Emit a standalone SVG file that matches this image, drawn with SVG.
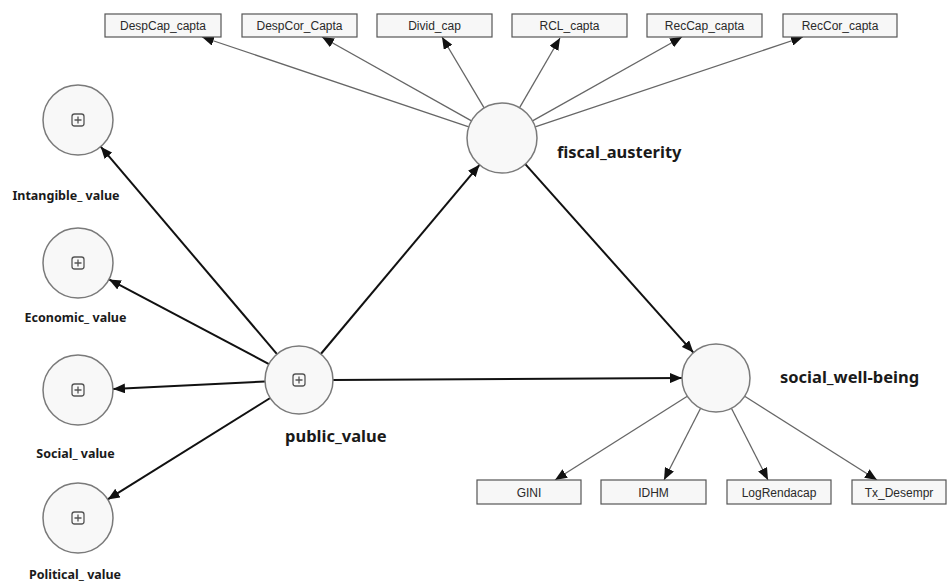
<svg xmlns="http://www.w3.org/2000/svg" width="948" height="583" viewBox="0 0 948 583">
<style>
.bg{fill:#ffffff}
.lv{fill:#f8f8f8;stroke:#7a7a7a;stroke-width:1.5}
.box{fill:#f7f7f7;stroke:#555;stroke-width:1.2}
.bt{font-family:"Liberation Sans",Arial,sans-serif;font-size:12px;fill:#2a2a2a;text-anchor:middle}
.lbl{font-family:"Noto Sans","DejaVu Sans",sans-serif;font-weight:bold;font-size:16.5px;fill:#1a1a1a}
.sl{font-family:"Noto Sans","DejaVu Sans",sans-serif;font-weight:bold;font-size:12.5px;fill:#1a1a1a;text-anchor:middle}
.st{stroke:#111;stroke-width:2;fill:none;marker-end:url(#ah)}
.ms{stroke:#666;stroke-width:1.3;fill:none;marker-end:url(#ahm)}
.ic{fill:none;stroke:#555;stroke-width:1.3}
</style>
<defs>
<marker id="ah" viewBox="0 0 12 10" refX="12" refY="5" markerWidth="12" markerHeight="10" markerUnits="userSpaceOnUse" orient="auto">
<path d="M0,0 L12,5 L0,10 Z" fill="#111"/>
</marker>
<marker id="ahm" viewBox="0 0 12 10" refX="12" refY="5" markerWidth="12" markerHeight="10" markerUnits="userSpaceOnUse" orient="auto">
<path d="M0,0 L12,5 L0,10 Z" fill="#111"/>
</marker>
<g id="plus">
<rect x="-6" y="-6" width="12" height="12" rx="2.5" class="ic"/>
<path d="M-3.5,0 H3.5 M0,-3.5 V3.5" class="ic"/>
</g>
</defs>
<rect class="bg" x="0" y="0" width="948" height="583"/>

<g id="connectors">
<line class="st" x1="320.8" y1="354" x2="479.5" y2="164.8"/>
<line class="st" x1="525.3" y1="164.1" x2="693.4" y2="352.6"/>
<line class="st" x1="333" y1="380" x2="682" y2="378"/>
<line class="st" x1="277" y1="354.1" x2="100.7" y2="146.7"/>
<line class="st" x1="269" y1="364.1" x2="109" y2="279.4"/>
<line class="st" x1="265" y1="381.5" x2="113" y2="389"/>
<line class="st" x1="270.2" y1="398" x2="107.7" y2="499.4"/>
<line class="ms" x1="468.8" y1="126.8" x2="202" y2="37"/>
<line class="ms" x1="471.5" y1="120.9" x2="322" y2="37"/>
<line class="ms" x1="484.1" y1="107.9" x2="442" y2="37"/>
<line class="ms" x1="519.6" y1="107.7" x2="560" y2="38"/>
<line class="ms" x1="532.5" y1="120.9" x2="682" y2="37"/>
<line class="ms" x1="535.2" y1="126.9" x2="803" y2="37"/>
<line class="ms" x1="687.3" y1="396.2" x2="555" y2="480"/>
<line class="ms" x1="700.6" y1="408.3" x2="664" y2="480"/>
<line class="ms" x1="731.4" y1="408.3" x2="768" y2="480"/>
<line class="ms" x1="744.7" y1="396.2" x2="877" y2="480"/>
</g>

<g id="DespCap_capta"><rect class="box" x="105" y="14" width="116" height="23"/><text class="bt" x="163" y="30">DespCap_capta</text></g>
<g id="DespCor_Capta"><rect class="box" x="242" y="14" width="115" height="23"/><text class="bt" x="299.5" y="30">DespCor_Capta</text></g>
<g id="Divid_cap"><rect class="box" x="377" y="14" width="115" height="23"/><text class="bt" x="434.5" y="30">Divid_cap</text></g>
<g id="RCL_capta"><rect class="box" x="512" y="14" width="115" height="23"/><text class="bt" x="569.5" y="30">RCL_capta</text></g>
<g id="RecCap_capta"><rect class="box" x="647" y="14" width="115" height="23"/><text class="bt" x="704.5" y="30">RecCap_capta</text></g>
<g id="RecCor_capta"><rect class="box" x="783" y="14" width="114" height="23"/><text class="bt" x="840" y="30">RecCor_capta</text></g>

<g id="GINI"><rect class="box" x="477" y="480" width="104" height="24"/><text class="bt" x="529" y="496.5">GINI</text></g>
<g id="IDHM"><rect class="box" x="601" y="480" width="105" height="24"/><text class="bt" x="653.5" y="496.5">IDHM</text></g>
<g id="LogRendacap"><rect class="box" x="727" y="480" width="104" height="24"/><text class="bt" x="779" y="496.5">LogRendacap</text></g>
<g id="Tx_Desempr"><rect class="box" x="852" y="480" width="94" height="24"/><text class="bt" x="899" y="496.5">Tx_Desempr</text></g>

<g id="fiscal_austerity"><circle class="lv" cx="502" cy="138" r="35"/><text class="lbl" x="557" y="158">fiscal_austerity</text></g>
<g id="public_value"><circle class="lv" cx="299" cy="380" r="34"/><use href="#plus" x="299" y="380"/><text class="lbl" x="285" y="442">public_value</text></g>
<g id="social_well-being"><circle class="lv" cx="716" cy="378" r="34"/><text class="lbl" x="780" y="383">social_well-being</text></g>

<g id="Intangible_value"><circle class="lv" cx="78" cy="120" r="35"/><use href="#plus" x="78" y="120"/><text class="sl" x="66" y="200">Intangible_ value</text></g>
<g id="Economic_value"><circle class="lv" cx="78" cy="263" r="35"/><use href="#plus" x="78" y="263"/><text class="sl" x="75.5" y="322">Economic_ value</text></g>
<g id="Social_value"><circle class="lv" cx="78" cy="390" r="35"/><use href="#plus" x="78" y="390"/><text class="sl" x="75.5" y="458">Social_ value</text></g>
<g id="Political_value"><circle class="lv" cx="78" cy="518" r="35"/><use href="#plus" x="78" y="518"/><text class="sl" x="75" y="579">Political_ value</text></g>
</svg>
